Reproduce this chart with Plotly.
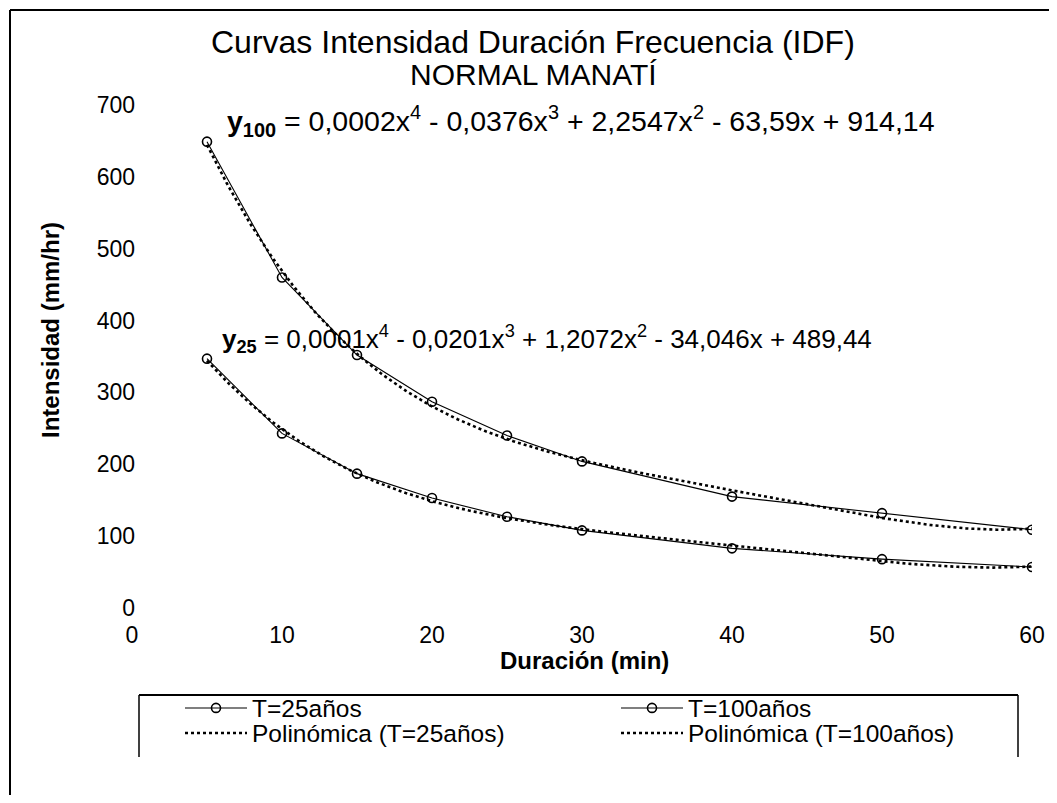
import numpy as np
import plotly.graph_objects as go

# ---- data ----
duracion = [5, 10, 15, 20, 25, 30, 40, 50, 60]
i_t25 = [347, 243, 187, 153, 127, 108, 83, 68, 57]
i_t100 = [649, 460, 352, 287, 240, 204, 155, 132, 109]
x_ticks = [0, 10, 20, 30, 40, 50, 60]
y_ticks = [0, 100, 200, 300, 400, 500, 600, 700]

FONT = "Liberation Sans, Arial, sans-serif"
OFF = 8                      # default page body margin
W, H = 1041, 787
L = 132 - OFF
R = W - (1032 - OFF)
T = 105 - OFF
B = H - (608 - OFF)
PW, PH = W - L - R, H - T - B


def px(xp):   # reference-page pixel -> paper coordinate
    return (xp - OFF - L) / PW


def py(yp):
    return (H - B - (yp - OFF)) / PH


# polynomial (order 4) trendlines, as Excel does
xs = np.linspace(min(duracion), max(duracion), 300)
p25 = np.polyval(np.polyfit(duracion, i_t25, 4), xs)
p100 = np.polyval(np.polyfit(duracion, i_t100, 4), xs)

fig = go.Figure()
mk = dict(symbol="circle-open", size=9, color="black", line=dict(width=1.6, color="black"))
fig.add_trace(go.Scatter(x=duracion, y=i_t25, mode="lines+markers", name="T=25años",
                         line=dict(color="black", width=1.1), marker=mk, legend="legend"))
fig.add_trace(go.Scatter(x=duracion, y=i_t100, mode="lines+markers", name="T=100años",
                         line=dict(color="black", width=1.1), marker=mk, legend="legend2"))
fig.add_trace(go.Scatter(x=xs, y=p25, mode="lines", name="Polinómica (T=25años)",
                         line=dict(color="black", width=2.6, dash="dot"), legend="legend3"))
fig.add_trace(go.Scatter(x=xs, y=p100, mode="lines", name="Polinómica (T=100años)",
                         line=dict(color="black", width=2.6, dash="dot"), legend="legend4"))

ann = []
ann.append(dict(text="Curvas Intensidad Duración Frecuencia (IDF)", xref="paper", yref="paper",
                x=px(533), y=py(42), xanchor="center", yanchor="middle", showarrow=False,
                font=dict(family=FONT, size=32, color="black")))
ann.append(dict(text="NORMAL MANATÍ", xref="paper", yref="paper",
                x=px(533), y=py(75), xanchor="center", yanchor="middle", showarrow=False,
                font=dict(family=FONT, size=30, color="black")))
ann.append(dict(text="<b>y</b><sub><b>100</b></sub> = 0,0002x<sup>4</sup> - 0,0376x<sup>3</sup> + 2,2547x<sup>2</sup> - 63,59x + 914,14",
                xref="paper", yref="paper", x=px(225), y=py(121), xanchor="left", yanchor="middle",
                showarrow=False, font=dict(family=FONT, size=28.5, color="black")))
ann.append(dict(text="<b>y</b><sub><b>25</b></sub> = 0,0001x<sup>4</sup> - 0,0201x<sup>3</sup> + 1,2072x<sup>2</sup> - 34,046x + 489,44",
                xref="paper", yref="paper", x=px(220), y=py(339), xanchor="left", yanchor="middle",
                showarrow=False, font=dict(family=FONT, size=26, color="black")))
ann.append(dict(text="<b>Duración (min)</b>", xref="paper", yref="paper", x=px(584), y=py(660),
                xanchor="center", yanchor="middle", showarrow=False,
                font=dict(family=FONT, size=24, color="black")))
ann.append(dict(text="<b>Intensidad (mm/hr)</b>", xref="paper", yref="paper", x=px(50), y=py(330),
                xanchor="center", yanchor="middle", showarrow=False, textangle=-90,
                font=dict(family=FONT, size=24, color="black")))

line = dict(color="black", width=2)
shapes = [
    dict(type="line", xref="paper", yref="paper", x0=px(10), x1=px(1057), y0=py(10), y1=py(10), line=line),
    dict(type="line", xref="paper", yref="paper", x0=px(10), x1=px(10), y0=py(10), y1=py(803), line=line),
    dict(type="line", xref="paper", yref="paper", x0=px(139), x1=px(1018), y0=py(695), y1=py(695), line=line),
    dict(type="line", xref="paper", yref="paper", x0=px(139), x1=px(139), y0=py(695), y1=py(757), line=dict(color="black", width=1.5)),
    dict(type="line", xref="paper", yref="paper", x0=px(1018), x1=px(1018), y0=py(695), y1=py(757), line=dict(color="black", width=1.5)),
]

axfont = dict(family=FONT, size=23, color="black")
legfont = dict(family=FONT, size=24.5, color="black")


def leg(xp, yp):
    return dict(x=px(xp), y=py(yp), xanchor="left", yanchor="middle", itemwidth=62,
                font=legfont, bgcolor="rgba(0,0,0,0)", borderwidth=0)


fig.update_layout(
    width=W, height=H,
    margin=dict(l=L, r=R, t=T, b=B, autoexpand=False),
    paper_bgcolor="white", plot_bgcolor="white",
    annotations=ann, shapes=shapes,
    xaxis=dict(range=[0, 60], tickvals=x_ticks, ticktext=[str(v) for v in x_ticks],
               showgrid=False, zeroline=False, showline=False, ticks="",
               tickfont=axfont, ticklabelstandoff=11),
    yaxis=dict(range=[0, 700], tickvals=y_ticks, ticktext=[str(v) for v in y_ticks],
               showgrid=False, zeroline=False, showline=False, ticks="",
               tickfont=axfont, ticklabelstandoff=-4),
    showlegend=True,
    legend=leg(180, 708),
    legend2=leg(616, 708),
    legend3=leg(180, 733),
    legend4=leg(616, 733),
)

fig.write_html("out.html")
